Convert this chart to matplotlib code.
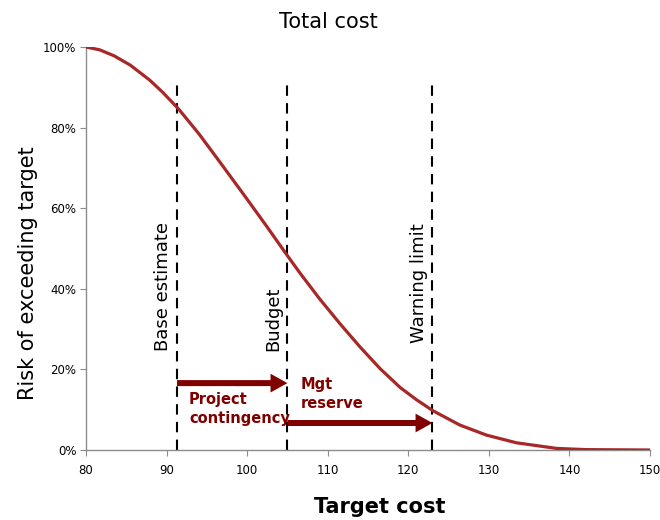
import matplotlib.pyplot as plt
from matplotlib.ticker import PercentFormatter

# curve
cost = [80, 81.7, 83.5, 85.5, 87.9, 89.5, 91.5, 94, 96.6, 99.9, 102.5, 104.9, 106.6,
        109.0, 111.5, 114.0, 116.5, 119.0, 121.0, 123.1, 126.4, 129.7, 133.4, 138.4, 142, 150]
risk = [1.0, 0.993, 0.978, 0.955, 0.918, 0.888, 0.846, 0.785, 0.715, 0.625, 0.553, 0.485, 0.438,
        0.375, 0.314, 0.256, 0.202, 0.155, 0.125, 0.097, 0.062, 0.037, 0.018, 0.004, 0.001, 0.0]

x_ticks = [80, 90, 100, 110, 120, 130, 140, 150]
y_ticks = [0, 0.2, 0.4, 0.6, 0.8, 1.0]

markers = ["Base estimate", "Budget", "Warning limit"]
marker_x = [91.3, 105.0, 123.0]
marker_label_y = [0.245, 0.245, 0.265]

arrow_from = [91.3, 105.0]
arrow_to = [105.0, 123.0]
arrow_y = [0.166, 0.067]
arrow_text = ["Project\ncontingency", "Mgt\nreserve"]

curve_col = "#A82828"
dark_red = "#800000"
grey = "#8C8C8C"

fig = plt.figure(figsize=(6.6, 5.2), dpi=100)
ax = fig.add_axes([0.1303, 0.1346, 0.8545, 0.775])

ax.plot(cost, risk, color=curve_col, lw=2.3, solid_capstyle="round",
        solid_joinstyle="round", zorder=3)

for name, xv, ly in zip(markers, marker_x, marker_label_y):
    ax.plot([xv, xv], [0, 0.905], color="black", lw=1.5, dashes=(5, 3.5), zorder=2)
    ax.text(xv - 0.6, ly, name, rotation=90, ha="right", va="bottom",
            fontsize=13, color="black")

for x0, x1, yv in zip(arrow_from, arrow_to, arrow_y):
    ax.annotate("", xy=(x1, yv), xytext=(x0, yv),
                arrowprops=dict(arrowstyle="simple,head_length=0.9,head_width=1.0,tail_width=0.32",
                                fc=dark_red, ec="none", shrinkA=0, shrinkB=0,
                                mutation_scale=13.5),
                zorder=4)

ax.text(92.8, 0.145, arrow_text[0], ha="left", va="top", fontsize=10.5,
        fontweight="bold", color=dark_red, linespacing=1.35)
ax.text(106.6, 0.182, arrow_text[1], ha="left", va="top", fontsize=10.5,
        fontweight="bold", color=dark_red, linespacing=1.35)

ax.set_xlim(80, 150)
ax.set_ylim(0, 1.0)
ax.set_xticks(x_ticks)
ax.set_yticks(y_ticks)
ax.yaxis.set_major_formatter(PercentFormatter(1.0, decimals=0))
ax.tick_params(axis="both", labelsize=8.5, color=grey, length=4, direction="out")
ax.tick_params(axis="y", pad=3)
ax.tick_params(axis="x", pad=6)

for side in ["top", "right"]:
    ax.spines[side].set_visible(False)
for side in ["left", "bottom"]:
    ax.spines[side].set_color(grey)
    ax.spines[side].set_linewidth(1.0)

fig.text(0.497, 0.957, "Total cost", ha="center", va="center", fontsize=15)
fig.text(0.042, 0.475, "Risk of exceeding target", rotation=90, ha="center",
         va="center", fontsize=15)
fig.text(0.576, 0.025, "Target cost", ha="center", va="center", fontsize=15,
         fontweight="bold")

fig.savefig("out.png", dpi=100)
